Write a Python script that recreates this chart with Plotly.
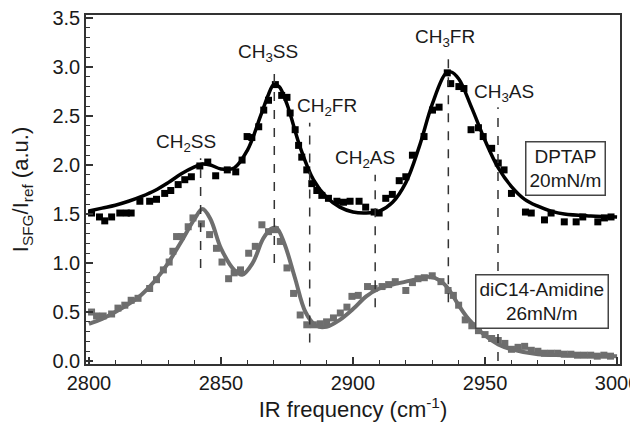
import plotly.graph_objects as go

# ---------------- data ----------------
dptap_x = [2801, 2804, 2806, 2808.6, 2811.7, 2814.2, 2816, 2819.3, 2823, 2825.6,
           2828.7, 2831, 2833.8, 2836.3, 2838.8, 2842, 2845, 2848, 2852.4, 2855.6,
           2858, 2859.9, 2861.7, 2864.3, 2866.2, 2868, 2870.6, 2873, 2875, 2876.2,
           2878.1, 2879.4, 2880.6, 2882.5, 2884.4, 2886.3, 2888.2, 2890.7, 2893.9, 2896.4,
           2898.9, 2902.3, 2904.8, 2908, 2909.9, 2912.4, 2914.9, 2917.5, 2920, 2922.5,
           2926.9, 2930.1, 2932.6, 2935.7, 2937, 2940.1, 2942, 2944.7, 2947.5, 2949.3,
           2952.5, 2955, 2957.2, 2960, 2965.3, 2967.5, 2972.5, 2975, 2980, 2984.5,
           2987, 2992.7, 2995.2, 2997.7]
dptap_y = [1.51, 1.47, 1.43, 1.47, 1.51, 1.51, 1.51, 1.63, 1.63, 1.65,
           1.71, 1.74, 1.80, 1.85, 1.88, 1.99, 2.03, 1.89, 1.95, 1.93,
           2.05, 2.29, 2.28, 2.39, 2.56, 2.66, 2.82, 2.71, 2.69, 2.53,
           2.36, 2.20, 2.08, 1.95, 1.81, 1.74, 1.69, 1.66, 1.63, 1.62,
           1.63, 1.63, 1.57, 1.52, 1.51, 1.66, 1.70, 1.84, 1.88, 2.10,
           2.29, 2.56, 2.59, 2.94, 2.83, 2.80, 2.78, 2.36, 2.38, 2.29,
           2.17, 2.02, 1.95, 1.71, 1.52, 1.51, 1.44, 1.51, 1.42, 1.42,
           1.47, 1.42, 1.46, 1.47]

dptap_fit_x = [2800, 2805, 2810, 2815, 2820, 2825, 2830, 2835, 2840, 2843,
               2846, 2850, 2855, 2860, 2865, 2868, 2870, 2872, 2875, 2880,
               2885, 2890, 2895, 2900, 2905, 2910, 2915, 2920, 2925, 2930,
               2935, 2937, 2940, 2945, 2950, 2955, 2960, 2965, 2970, 2975,
               2980, 2990, 3000]
dptap_fit_y = [1.53, 1.56, 1.59, 1.63, 1.68, 1.74, 1.82, 1.91, 1.98, 2.01,
               2.00, 1.96, 1.97, 2.15, 2.50, 2.72, 2.82, 2.80, 2.62, 2.18,
               1.85, 1.67, 1.57, 1.52, 1.51, 1.53, 1.62, 1.82, 2.18, 2.62,
               2.93, 2.95, 2.88, 2.58, 2.25, 1.97, 1.78, 1.65, 1.58, 1.53,
               1.50, 1.48, 1.47]

amid_x = [2801, 2802.9, 2805.4, 2808.6, 2811, 2813.6, 2816, 2818.6, 2823, 2825.6,
          2828.2, 2830.4, 2831.8, 2833.2, 2835, 2837.6, 2839.4, 2842.6, 2845.7, 2848.3,
          2850.4, 2852.9, 2855, 2857.4, 2860.5, 2863, 2865.5, 2868, 2870.6, 2872.5,
          2875, 2877.5, 2880, 2882.5, 2885, 2887.6, 2890, 2892.6, 2895.2, 2897.7,
          2899.6, 2902, 2905.5, 2908, 2911, 2913.5, 2916, 2920, 2922.5, 2924.6,
          2927, 2930, 2933.3, 2936, 2938, 2940, 2942.5, 2945, 2947.5, 2950,
          2952.5, 2955, 2957.5, 2960, 2962.5, 2965, 2967.5, 2970, 2972.5, 2975,
          2977.5, 2980, 2982.5, 2985, 2987.5, 2990, 2992.5, 2995, 2997.5]
amid_y = [0.50, 0.46, 0.46, 0.48, 0.54, 0.57, 0.62, 0.64, 0.74, 0.83,
          0.93, 1.01, 1.12, 1.27, 1.27, 1.37, 1.46, 1.40, 1.29, 1.15,
          1.01, 0.84, 0.90, 0.93, 1.10, 1.17, 1.39, 1.32, 1.34, 1.22,
          0.95, 0.69, 0.47, 0.37, 0.37, 0.38, 0.40, 0.44, 0.49, 0.55,
          0.66, 0.67, 0.76, 0.74, 0.76, 0.78, 0.81, 0.72, 0.80, 0.84,
          0.85, 0.87, 0.81, 0.72, 0.67, 0.57, 0.42, 0.36, 0.31, 0.27,
          0.23, 0.21, 0.18, 0.12, 0.14, 0.15, 0.11, 0.10, 0.08, 0.08,
          0.08, 0.07, 0.07, 0.06, 0.06, 0.06, 0.05, 0.06, 0.05]

amid_fit_x = [2800, 2805, 2810, 2815, 2820, 2825, 2830, 2835, 2840, 2843,
              2846, 2850, 2855, 2858, 2862, 2866, 2869, 2871, 2874, 2878,
              2882, 2886, 2890, 2895, 2900, 2905, 2910, 2915, 2920, 2925,
              2929, 2933, 2936, 2940, 2944, 2950, 2955, 2960, 2970, 2980,
              3000]
amid_fit_y = [0.38, 0.43, 0.50, 0.58, 0.68, 0.82, 1.00, 1.22, 1.45, 1.55,
              1.45, 1.15, 0.93, 0.88, 1.00, 1.25, 1.35, 1.36, 1.20, 0.85,
              0.50, 0.36, 0.35, 0.42, 0.53, 0.66, 0.74, 0.78, 0.81, 0.84,
              0.86, 0.82, 0.74, 0.57, 0.42, 0.26, 0.17, 0.12, 0.07, 0.06,
              0.05]

peak_labels = ["CH<sub>2</sub>SS", "CH<sub>3</sub>SS", "CH<sub>2</sub>FR",
               "CH<sub>2</sub>AS", "CH<sub>3</sub>FR", "CH<sub>3</sub>AS"]
peak_pos = [2842.3, 2870.2, 2883.6, 2908.4, 2936.1, 2954.9]
line_top = [2.07, 2.97, 2.43, 1.90, 3.16, 2.59]
line_bottom = [0.95, 1.00, 0.19, 0.55, 0.60, 0.0]
label_x = [2836.7, 2868.0, 2890.0, 2904.7, 2935.0, 2957.3]
label_y = [2.22, 3.14, 2.59, 2.06, 3.30, 2.73]

boxes = ["DPTAP<br>20mN/m", "diC14-Amidine<br>26mN/m"]
box_x = [2980.3, 2971.6]
box_y = [1.96, 0.61]

# ---------------- figure ----------------
GRAY = "#6e6e6e"
FONT = "Liberation Sans, Arial, sans-serif"
TXT = "#1a1a1a"

fig = go.Figure()
fig.add_trace(go.Scatter(x=amid_x, y=amid_y, mode="markers",
                         marker=dict(symbol="square", size=7, color=GRAY),
                         showlegend=False))
fig.add_trace(go.Scatter(x=amid_fit_x, y=amid_fit_y, mode="lines",
                         line=dict(color=GRAY, width=4, shape="spline", smoothing=1.0),
                         showlegend=False))
fig.add_trace(go.Scatter(x=dptap_x, y=dptap_y, mode="markers",
                         marker=dict(symbol="square", size=7, color="black"),
                         showlegend=False))
fig.add_trace(go.Scatter(x=dptap_fit_x, y=dptap_fit_y, mode="lines",
                         line=dict(color="black", width=3.5, shape="spline", smoothing=1.0),
                         showlegend=False))

for xp, yt, yb in zip(peak_pos, line_top, line_bottom):
    fig.add_shape(type="line", xref="x", yref="y", x0=xp, x1=xp, y0=yb, y1=yt,
                  line=dict(color="#333333", width=1.5, dash="dash"), layer="above")

for t, lx, ly in zip(peak_labels, label_x, label_y):
    fig.add_annotation(x=lx, y=ly, xref="x", yref="y", text=t, showarrow=False,
                       font=dict(family=FONT, size=19, color=TXT))

for t, bx, by in zip(boxes, box_x, box_y):
    fig.add_annotation(x=bx, y=by, xref="x", yref="y", text=t, showarrow=False,
                       font=dict(family=FONT, size=19, color=TXT),
                       bgcolor="white", bordercolor="#444444", borderwidth=1.5,
                       borderpad=3)

# page adds an 8px body margin, so the figure is sized/offset to compensate
fig.update_layout(
    width=630, height=414,
    margin=dict(l=78, r=18, t=7, b=58),
    paper_bgcolor="white", plot_bgcolor="white",
    font=dict(family=FONT, size=20, color=TXT),
    xaxis=dict(range=[2798.9, 3001.1], tickvals=[2800, 2850, 2900, 2950, 3000],
               automargin=False, ticklabeloverflow="allow",
               ticks="inside", ticklen=7, tickwidth=1.5, tickcolor="#333333",
               minor=dict(dtick=10, ticks="inside", ticklen=4, tickwidth=1.2, tickcolor="#333333"),
               showline=True, linecolor="#333333", linewidth=1.5, mirror=True,
               showgrid=False, zeroline=False,
               title=dict(text="IR frequency (cm<sup>-1</sup>)", font=dict(size=22), standoff=8),
               tickfont=dict(size=20)),
    yaxis=dict(range=[-0.03, 3.53], tickvals=[0, 0.5, 1.0, 1.5, 2.0, 2.5, 3.0, 3.5],
               tickformat=".1f", automargin=False, ticklabeloverflow="allow",
               ticks="inside", ticklen=7, tickwidth=1.5, tickcolor="#333333",
               minor=dict(dtick=0.1, ticks="inside", ticklen=4, tickwidth=1.2, tickcolor="#333333"),
               showline=True, linecolor="#333333", linewidth=1.5, mirror=True,
               showgrid=False, zeroline=False,
               title=dict(text="I<sub>SFG</sub>/I<sub>ref</sub> (a.u.)", font=dict(size=22), standoff=18),
               tickfont=dict(size=20)),
)

fig.write_html("out.html")
